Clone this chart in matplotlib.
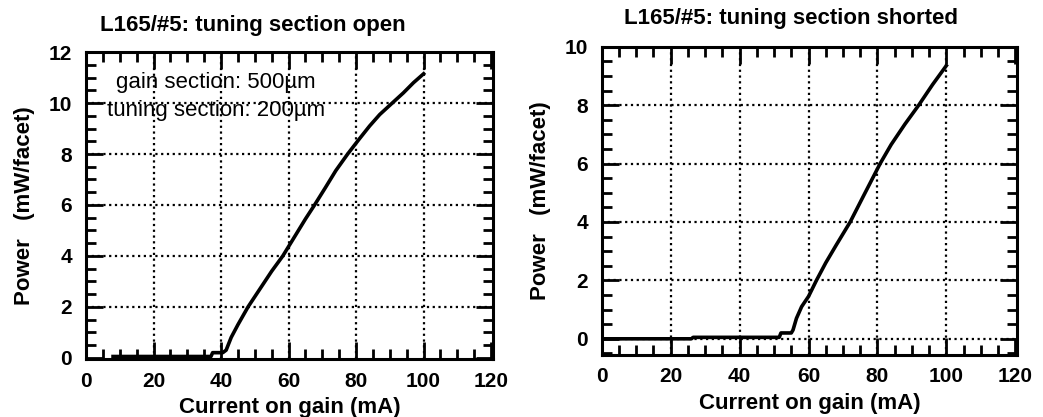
import matplotlib.pyplot as plt
import numpy as np
from matplotlib.ticker import MultipleLocator

plt.rcParams['font.family'] = ['Liberation Sans', 'DejaVu Sans']

# tuning section open
cur_open = [8, 37, 37.5, 40.5, 41.5, 43, 45, 48, 52, 55, 58.3, 62, 65, 67.7, 71, 74, 77.5, 81, 84, 87, 90.7, 94, 97, 100]
pow_open = [0.05, 0.05, 0.2, 0.2, 0.3, 0.8, 1.3, 2.0, 2.8, 3.4, 4.0, 4.8, 5.45, 6.0, 6.7, 7.35, 8.0, 8.6, 9.1, 9.55, 10.0, 10.4, 10.8, 11.15]

# tuning section shorted
cur_short = [0, 26, 26.5, 51.5, 52, 55, 55.5, 56.5, 58, 60, 62.3, 65, 68, 72.1, 76, 80.8, 84, 88, 92, 96, 100]
pow_short = [0, 0, 0.05, 0.05, 0.2, 0.2, 0.3, 0.7, 1.1, 1.45, 2.0, 2.6, 3.2, 4.0, 4.9, 6.0, 6.65, 7.35, 8.0, 8.7, 9.35]

titles = ['L165/#5: tuning section open', 'L165/#5: tuning section shorted']
xlabel = 'Current on gain (mA)'
ylabel = 'Power   (mW/facet)'

fig = plt.figure(figsize=(10.43, 4.17), dpi=100)
ax1 = fig.add_axes([0.0825, 0.139, 0.390, 0.736])
ax2 = fig.add_axes([0.577, 0.149, 0.398, 0.739])

grid_kw = dict(color='black', linestyle=(0, (1, 1.6)), linewidth=1.6)


def style(ax, ylim, ymajor):
    ax.set_xlim(0, 120.5)
    ax.set_ylim(*ylim)
    ax.xaxis.set_major_locator(MultipleLocator(20))
    ax.xaxis.set_minor_locator(MultipleLocator(5))
    ax.yaxis.set_major_locator(MultipleLocator(ymajor))
    ax.yaxis.set_minor_locator(MultipleLocator(0.5))
    ax.tick_params(which='both', direction='in', top=True, right=True, width=2, colors='black')
    ax.tick_params(which='major', length=12, labelsize=15)
    ax.tick_params(axis='x', which='major', pad=9)
    ax.tick_params(axis='y', which='major', pad=10)
    ax.tick_params(which='minor', length=7)
    for lbl in ax.get_xticklabels() + ax.get_yticklabels():
        lbl.set_fontweight('bold')
    for sp in ax.spines.values():
        sp.set_linewidth(2.2)
    ax.set_xlabel(xlabel, fontsize=16, fontweight='bold', labelpad=5)
    ax.set_ylabel(ylabel, fontsize=16, fontweight='bold', labelpad=10)


# left panel
style(ax1, (-0.05, 12), 2)
for x in [20, 40, 60, 80, 100]:
    ax1.axvline(x, **grid_kw)
for y in [2, 4, 6, 8, 10]:
    ax1.axhline(y, **grid_kw)
ax1.plot(cur_open, pow_open, color='black', linewidth=2.6)
ax1.text(0.32, 0.90, 'gain section: 500\u00b5m', transform=ax1.transAxes,
         ha='center', va='center', fontsize=16)
ax1.text(0.32, 0.81, 'tuning section: 200\u00b5m', transform=ax1.transAxes,
         ha='center', va='center', fontsize=16)
fig.text(0.242, 0.938, titles[0], ha='center', va='center', fontsize=16, fontweight='bold')

# right panel
style(ax2, (-0.55, 10), 2)
for x in [20, 40, 60, 80, 100]:
    ax2.axvline(x, **grid_kw)
for y in [0, 2, 4, 6, 8]:
    ax2.axhline(y, **grid_kw)
ax2.plot(cur_short, pow_short, color='black', linewidth=2.6)
fig.text(0.758, 0.956, titles[1], ha='center', va='center', fontsize=16, fontweight='bold')

plt.savefig('out.png', dpi=100)
